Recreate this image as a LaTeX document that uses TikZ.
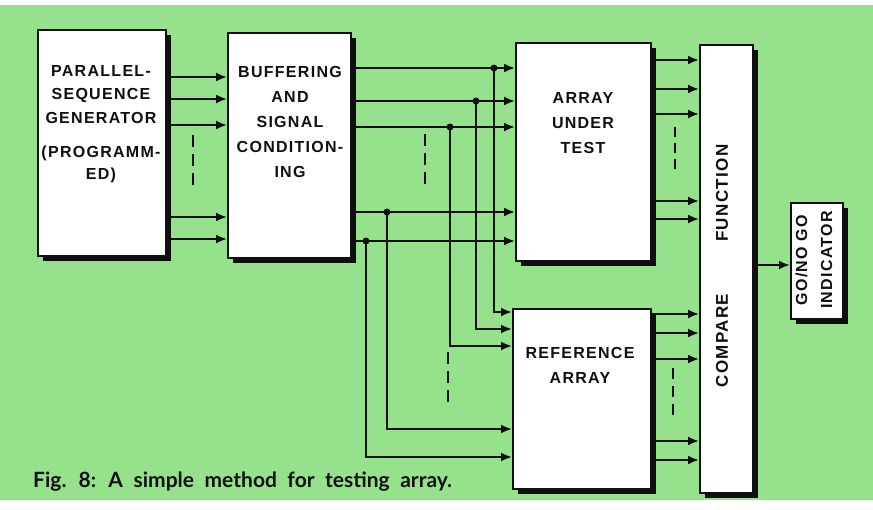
\documentclass[tikz,border=0pt]{standalone}
\usepackage{fontspec}
\setmainfont{Liberation Sans}
\newfontfamily\boxfont[LetterSpace=8]{Liberation Sans}
\newfontfamily\capfont{Lato}
\usetikzlibrary{arrows.meta,shadows}
\definecolor{bggreen}{RGB}{150,225,140}
\definecolor{ink}{RGB}{15,15,15}
\begin{document}
\begin{tikzpicture}[x=1pt,y=-1pt,
 blk/.style={draw=ink, line width=2pt, fill=white, inner sep=0pt, anchor=north west,
   drop shadow={shadow xshift=5pt, shadow yshift=-5pt, fill=ink, opacity=1}},
 lbl/.style={font=\boxfont\bfseries\fontsize{16}{25}\selectfont, align=center, text=ink, inner sep=0pt},
 wire/.style={line width=2pt, draw=ink},
 arr/.style={wire, -{Latex[length=11pt,width=9pt]}},
 dsh/.style={line width=2pt, draw=ink, dash pattern=on 12pt off 7pt},
 dot/.style={circle, fill=ink, inner sep=0pt, minimum size=7pt}]

\useasboundingbox (0,0) rectangle (873,509);
\fill[white] (0,0) rectangle (873,509);
\fill[bggreen] (0,5) rectangle (873,500);

% blocks
\node[blk, minimum width=128pt, minimum height=226pt] (psg) at (37,29) {};
\node[blk, minimum width=123pt, minimum height=225pt] (bsc) at (227,32) {};
\node[blk, minimum width=135pt, minimum height=218pt] (aut) at (515,42) {};
\node[blk, minimum width=138pt, minimum height=180pt] (ra) at (512,308) {};
\node[blk, minimum width=53pt, minimum height=448pt] (cmp) at (699,44) {};
\node[blk, minimum width=52pt, minimum height=116pt] (gng) at (790,202) {};

% labels
\node[lbl, font=\boxfont\bfseries\fontsize{16}{23.5}\selectfont] (psgt) at (101,94.5) {PARALLEL-\\SEQUENCE\\GENERATOR};
\node[lbl, font=\boxfont\bfseries\fontsize{16}{22}\selectfont] (psgp) at (101,164) {(PROGRAMM-\\ED)};
\node[lbl] (bsct) at (290,122) {BUFFERING\\AND\\SIGNAL\\CONDITION-\\ING};
\node[lbl] (autt) at (583,123) {ARRAY\\UNDER\\TEST};
\node[lbl] (rat) at (580,365.5) {REFERENCE\\ARRAY};
\node[lbl, rotate=90, font=\boxfont\bfseries\fontsize{17}{25}\selectfont] (cmpt) at (722,266) {COMPARE\hspace{52pt}FUNCTION};
\node[lbl, rotate=90] (gngt) at (814,260) {GO/NO GO\\INDICATOR};

% generator to buffering
\foreach \y in {77,99,125,217,239}
  \draw[arr] (psg.east |- 0,\y) -- (bsc.west |- 0,\y);

% buffering to array under test, with taps to reference array
\coordinate (j1) at (494,68);
\coordinate (j2) at (476,101);
\coordinate (j3) at (450,127);
\coordinate (j4) at (387,212);
\coordinate (j5) at (366,241);
\foreach \j/\t in {j1/312, j2/329, j3/346, j4/429, j5/457}{
  \draw[arr] (bsc.east |- \j) -- (aut.west |- \j);
  \draw[arr] (\j) |- (ra.west |- 0,\t);
  \node[dot] at (\j) {};
}

% arrays to compare function
\foreach \y in {60,89,114,201,219}
  \draw[arr] (aut.east |- 0,\y) -- (cmp.west |- 0,\y);
\foreach \y in {314,333,359,441,460}
  \draw[arr] (ra.east |- 0,\y) -- (cmp.west |- 0,\y);

% compare to indicator
\draw[arr] (cmp.east |- 0,265) -- (gng.west |- 0,265);

% ellipsis dashes
\draw[dsh] (193,135) -- (193,187);
\draw[dsh] (425,134) -- (425,186);
\draw[dsh] (448,352) -- (448,402);
\draw[dsh, dash pattern=on 10pt off 6pt] (675,127) -- (675,170);
\draw[dsh, dash pattern=on 11pt off 7pt] (673,368) -- (673,417);

% caption
\node[anchor=west, inner sep=0pt, text=ink,
  font=\capfont\bfseries\fontsize{21}{24}\selectfont] (cap) at (33,482)
  {\spaceskip=10.5pt Fig. 8: A simple method for testing array.};
\end{tikzpicture}
\end{document}
